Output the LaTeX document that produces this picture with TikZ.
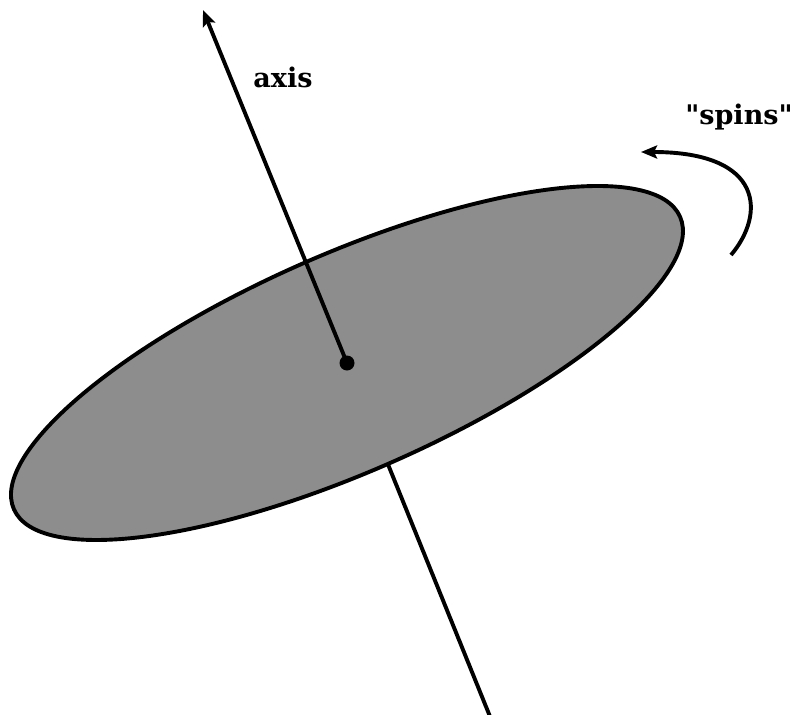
\documentclass[tikz,border=0pt]{standalone}
\usepackage{fontspec}
\setmainfont{DejaVu Serif}[Ligatures=TeXOff]
\usetikzlibrary{arrows.meta}
\definecolor{diskgray}{RGB}{141,141,141}
\begin{document}
\begin{tikzpicture}[x=1pt,y=-1pt,
  thick line/.style={line width=3.9pt},
  tipped/.style={thick line,-{Stealth[length=16pt,width=13pt,inset=3pt]}},
  lbl/.style={font=\fontsize{27}{31}\selectfont\bfseries, inner sep=0pt}]
  \useasboundingbox (0,0) rectangle (796,715);
  \coordinate (c) at (347,363);
  \coordinate (bot) at (490.6,718);
  \coordinate (tip) at (203,10);
  % lower part of axis (behind disk)
  \draw[thick line] (c) -- (bot);
  % disk
  \draw[thick line, fill=diskgray, rotate around={23.7:(c)}] (c) ellipse [x radius=363.8pt, y radius=108.9pt];
  % upper part of axis
  \draw[tipped] (c) -- (tip);
  \node[circle, fill=black, minimum size=15pt, inner sep=0pt] (dot) at (c) {};
  \node[lbl] (axis) at (283,77) {axis};
  \node[lbl] (spins) at (739,117) {"spins"};
  \coordinate (s0) at (731,255);
  \coordinate (s1) at (641,152);
  \draw[tipped] (s0) .. controls (765,215) and (765,152) .. (s1);
\end{tikzpicture}
\end{document}
